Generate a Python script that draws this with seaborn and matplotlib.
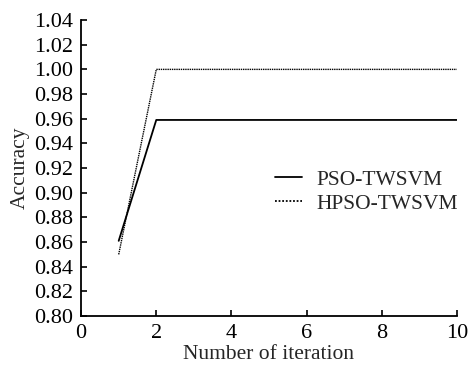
import pandas as pd
import matplotlib.pyplot as plt
import seaborn as sns

# Data
iterations = [1, 2, 3, 4, 5, 6, 7, 8, 9, 10]
pso_twsvm = [0.861, 0.959, 0.959, 0.959, 0.959, 0.959, 0.959, 0.959, 0.959, 0.959]
hpso_twsvm = [0.85, 1.00, 1.00, 1.00, 1.00, 1.00, 1.00, 1.00, 1.00, 1.00]
series_names = ['PSO-TWSVM', 'HPSO-TWSVM']

df = pd.DataFrame({
    'Iteration': iterations * 2,
    'Accuracy': pso_twsvm + hpso_twsvm,
    'Method': [series_names[0]] * len(iterations) + [series_names[1]] * len(iterations),
})

sns.set_style('ticks')
plt.rcParams['font.family'] = ['Liberation Serif', 'DejaVu Serif']

fig = plt.figure(figsize=(4.69, 3.71), dpi=100)
ax = fig.add_axes([0.173, 0.148, 0.801, 0.798])

sns.lineplot(data=df, x='Iteration', y='Accuracy', hue='Method', style='Method',
             palette=['black', 'black'], dashes=[(None, None), (1, 1)],
             linewidth=1.3, ax=ax)
# solid line first, dotted second
ax.lines[0].set_linestyle('-')
ax.lines[1].set_linestyle((0, (1, 0.6)))
ax.lines[1].set_linewidth(1.0)

ax.set_xlim(0, 10)
ax.set_ylim(0.80, 1.04)
ax.set_xticks([0, 2, 4, 6, 8, 10])
ax.set_yticks([0.80 + 0.02 * i for i in range(13)])
ax.set_yticklabels([f'{0.80 + 0.02 * i:.2f}' for i in range(13)])
ax.tick_params(direction='in', length=4, width=1.2, labelsize=16, pad=6, colors='black')
for s in ['top', 'right']:
    ax.spines[s].set_visible(False)
for s in ['left', 'bottom']:
    ax.spines[s].set_linewidth(1.3)
    ax.spines[s].set_color('black')

ax.set_xlabel('Number of iteration', fontsize=15.5, labelpad=1)
ax.set_ylabel('Accuracy', fontsize=15.5, labelpad=3)

handles, labels = ax.get_legend_handles_labels()
leg = ax.legend(handles, labels, loc='center left', bbox_to_anchor=(0.515, 0.42),
                frameon=False, fontsize=15.5, handlelength=1.25, handletextpad=0.7,
                labelspacing=0.2, borderpad=0, borderaxespad=0)

fig.savefig('out.png', dpi=100)
